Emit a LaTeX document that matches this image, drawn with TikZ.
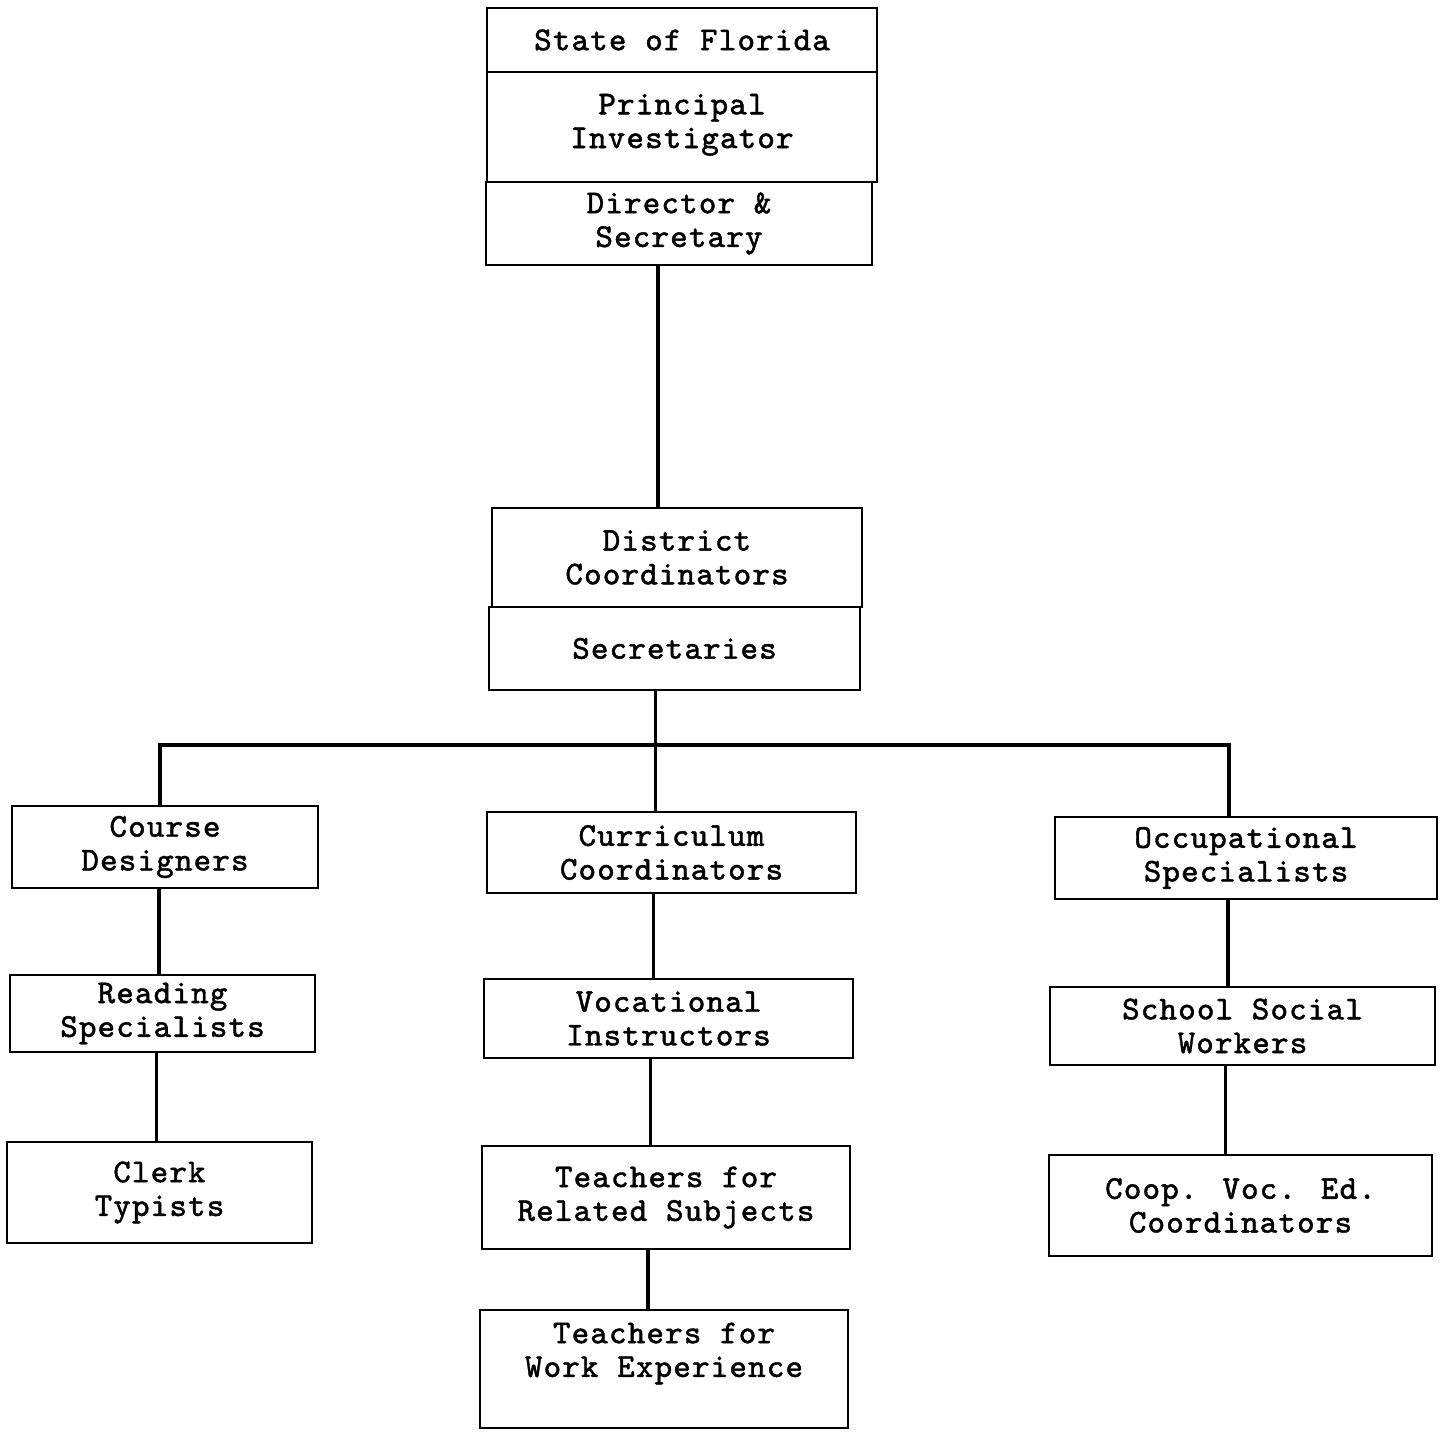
\documentclass[tikz,border=0pt]{standalone}
\usepackage{fontspec}
\newfontfamily\typefont[FakeBold=1.2, LetterSpace=3.5]{Latin Modern Mono}
\tikzset{
txt/.style={align=center, inner sep=0pt,
	font={\typefont\fontsize{9.5pt}{9.6pt}\selectfont}},
box/.style={txt, draw, line width=0.6pt},
link/.style={line width=0.9pt}
}
% vertical link from the bottom of one box to the top of the next
\newcommand{\vlink}[3]{\draw[link] ([xshift=#3]#1.south) -- ([xshift=#3]#1.south |- #2.north);}

\begin{document}
\begin{tikzpicture}
	\useasboundingbox (0,0) rectangle (14.46,14.31);
	% top block
	\node[box, minimum width=3.90cm, minimum height=0.64cm] (state) at (6.82,13.91) {State of Florida};
	\node[box, minimum width=3.90cm, minimum height=1.10cm, text depth=0.12cm] (princ) at (6.82,13.04) {Principal\\Investigator};
	\node[box, minimum width=3.86cm, minimum height=0.83cm] (director) at (6.79,12.075) {Director \&\\Secretary};
	% district block
	\node[box, minimum width=3.70cm, minimum height=0.99cm] (district) at (6.77,8.735) {District\\Coordinators};
	\node[box, minimum width=3.71cm, minimum height=0.83cm] (secr) at (6.745,7.825) {Secretaries};
	% left column
	\node[box, minimum width=3.06cm, minimum height=0.82cm] (course) at (1.65,5.84) {Course\\Designers};
	\node[box, minimum width=3.05cm, minimum height=0.77cm] (reading) at (1.625,4.175) {Reading\\Specialists};
	\node[box, minimum width=3.05cm, minimum height=1.01cm] (clerk) at (1.595,2.385) {Clerk\\Typists};
	% middle column
	\node[box, minimum width=3.69cm, minimum height=0.81cm] (curric) at (6.715,5.785) {Curriculum\\Coordinators};
	\node[box, minimum width=3.69cm, minimum height=0.79cm] (voc) at (6.685,4.125) {Vocational\\Instructors};
	\node[box, minimum width=3.68cm, minimum height=1.03cm] (related) at (6.66,2.335) {Teachers for\\Related Subjects};
	\node[box, minimum width=3.68cm, minimum height=1.18cm] (work) at (6.64,0.62) {};
	\node[txt, anchor=north] (worktext) at ([yshift=-0.13cm]work.north) {Teachers for\\Work Experience};
	% right column
	\node[box, minimum width=3.82cm, minimum height=0.82cm] (occup) at (12.46,5.73) {Occupational\\Specialists};
	\node[box, minimum width=3.85cm, minimum height=0.78cm] (school) at (12.425,4.05) {School Social\\Workers};
	\node[box, minimum width=3.83cm, minimum height=1.01cm] (coop) at (12.405,2.255) {Coop. Voc. Ed.\\Coordinators};

	% links
	\draw[link] ([xshift=-2.1mm]director.south) -- ([xshift=-2.1mm]director.south |- district.north);
	\draw[link] ([xshift=-1.9mm]secr.south) -- ++(0,-0.54) coordinate (bus);
	\draw[link] ([xshift=-0.5mm]course.north) |- ([xshift=-1.7mm]occup.north |- bus) -- ([xshift=-1.7mm]occup.north);
	\draw[link] (bus) -- (bus |- curric.north);
	\vlink{course}{reading}{-0.6mm}
	\vlink{reading}{clerk}{-0.6mm}
	\vlink{curric}{voc}{-1.8mm}
	\vlink{voc}{related}{-1.8mm}
	\vlink{related}{work}{-1.8mm}
	\vlink{occup}{school}{-1.8mm}
	\vlink{school}{coop}{-1.7mm}
\end{tikzpicture}
\end{document}
